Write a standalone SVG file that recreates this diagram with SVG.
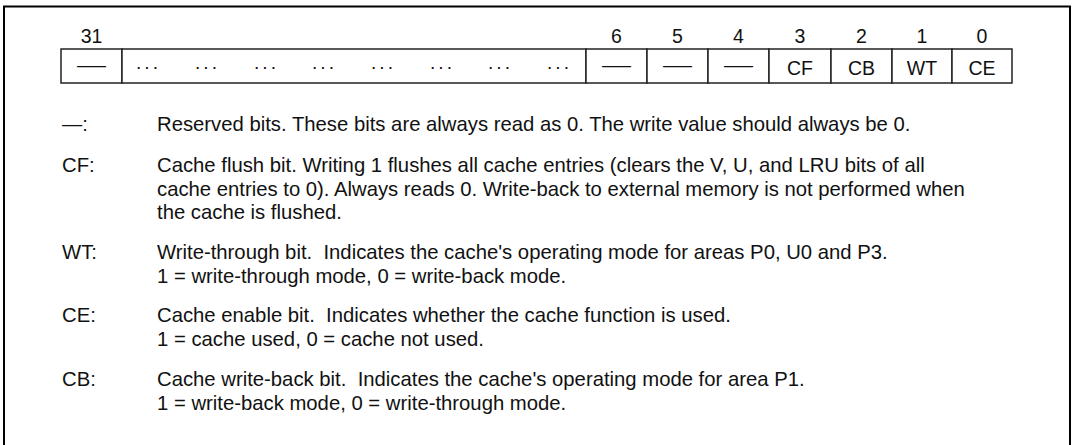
<svg xmlns="http://www.w3.org/2000/svg" width="1072" height="445" viewBox="0 0 1072 445">
<style>
  text { font-family: "Liberation Sans", Arial, sans-serif; fill: #111; }
  .num { font-size: 19.5px; text-anchor: middle; }
  .lbl { font-size: 19.5px; text-anchor: middle; }
  .dots { font-size: 19px; text-anchor: middle; letter-spacing: 2px; }
  .body { font-size: 20.3px; white-space: pre; }
  .cell { fill: #fff; stroke: #222; stroke-width: 1.5; }
</style>
<rect width="1072" height="445" fill="#fff"/>
<path d="M4 445 V6.5 H1070 V445" fill="none" stroke="#000" stroke-width="2"/>

<g id="register">
  <g id="bit31">
    <text class="num" x="91.5" y="43">31</text>
    <rect class="cell" x="61" y="49" width="61" height="34"/>
    <text class="lbl" x="91.5" y="72" textLength="29" lengthAdjust="spacingAndGlyphs">—</text>
  </g>
  <g id="bits30-7">
    <rect class="cell" x="122" y="49" width="464" height="34"/>
    <text class="dots" x="148" y="73">···</text>
    <text class="dots" x="207" y="73">···</text>
    <text class="dots" x="266" y="73">···</text>
    <text class="dots" x="324" y="73">···</text>
    <text class="dots" x="383" y="73">···</text>
    <text class="dots" x="442" y="73">···</text>
    <text class="dots" x="500" y="73">···</text>
    <text class="dots" x="559" y="73">···</text>
  </g>
  <g id="bit6">
    <text class="num" x="616.5" y="43">6</text>
    <rect class="cell" x="586" y="49" width="61" height="34"/>
    <text class="lbl" x="616.5" y="72" textLength="29" lengthAdjust="spacingAndGlyphs">—</text>
  </g>
  <g id="bit5">
    <text class="num" x="677.5" y="43">5</text>
    <rect class="cell" x="647" y="49" width="61" height="34"/>
    <text class="lbl" x="677.5" y="72" textLength="29" lengthAdjust="spacingAndGlyphs">—</text>
  </g>
  <g id="bit4">
    <text class="num" x="738.5" y="43">4</text>
    <rect class="cell" x="708" y="49" width="61" height="34"/>
    <text class="lbl" x="738.5" y="72" textLength="29" lengthAdjust="spacingAndGlyphs">—</text>
  </g>
  <g id="bit3">
    <text class="num" x="800" y="43">3</text>
    <rect class="cell" x="769" y="49" width="62" height="34"/>
    <text class="lbl" x="800" y="74.5">CF</text>
  </g>
  <g id="bit2">
    <text class="num" x="861.5" y="43">2</text>
    <rect class="cell" x="831" y="49" width="61" height="34"/>
    <text class="lbl" x="861.5" y="74.5">CB</text>
  </g>
  <g id="bit1">
    <text class="num" x="922" y="43">1</text>
    <rect class="cell" x="892" y="49" width="60" height="34"/>
    <text class="lbl" x="922" y="74.5">WT</text>
  </g>
  <g id="bit0">
    <text class="num" x="982" y="43">0</text>
    <rect class="cell" x="952" y="49" width="60" height="34"/>
    <text class="lbl" x="982" y="74.5">CE</text>
  </g>
</g>

<g id="legend-reserved">
  <text class="body" x="62" y="131">—:</text>
  <text class="body" x="157" y="131">Reserved bits. These bits are always read as 0. The write value should always be 0.</text>
</g>
<g id="legend-cf">
  <text class="body" x="62" y="172">CF:</text>
  <text class="body" x="157" y="172">Cache flush bit. Writing 1 flushes all cache entries (clears the V, U, and LRU bits of all</text>
  <text class="body" x="157" y="195.5">cache entries to 0). Always reads 0. Write-back to external memory is not performed when</text>
  <text class="body" x="157" y="219">the cache is flushed.</text>
</g>
<g id="legend-wt">
  <text class="body" x="62" y="259">WT:</text>
  <text class="body" x="157" y="259">Write-through bit.  Indicates the cache's operating mode for areas P0, U0 and P3.</text>
  <text class="body" x="157" y="282.5">1 = write-through mode, 0 = write-back mode.</text>
</g>
<g id="legend-ce">
  <text class="body" x="62" y="322">CE:</text>
  <text class="body" x="157" y="322">Cache enable bit.  Indicates whether the cache function is used.</text>
  <text class="body" x="157" y="345.5">1 = cache used, 0 = cache not used.</text>
</g>
<g id="legend-cb">
  <text class="body" x="62" y="386">CB:</text>
  <text class="body" x="157" y="386">Cache write-back bit.  Indicates the cache's operating mode for area P1.</text>
  <text class="body" x="157" y="409.5">1 = write-back mode, 0 = write-through mode.</text>
</g>
</svg>
